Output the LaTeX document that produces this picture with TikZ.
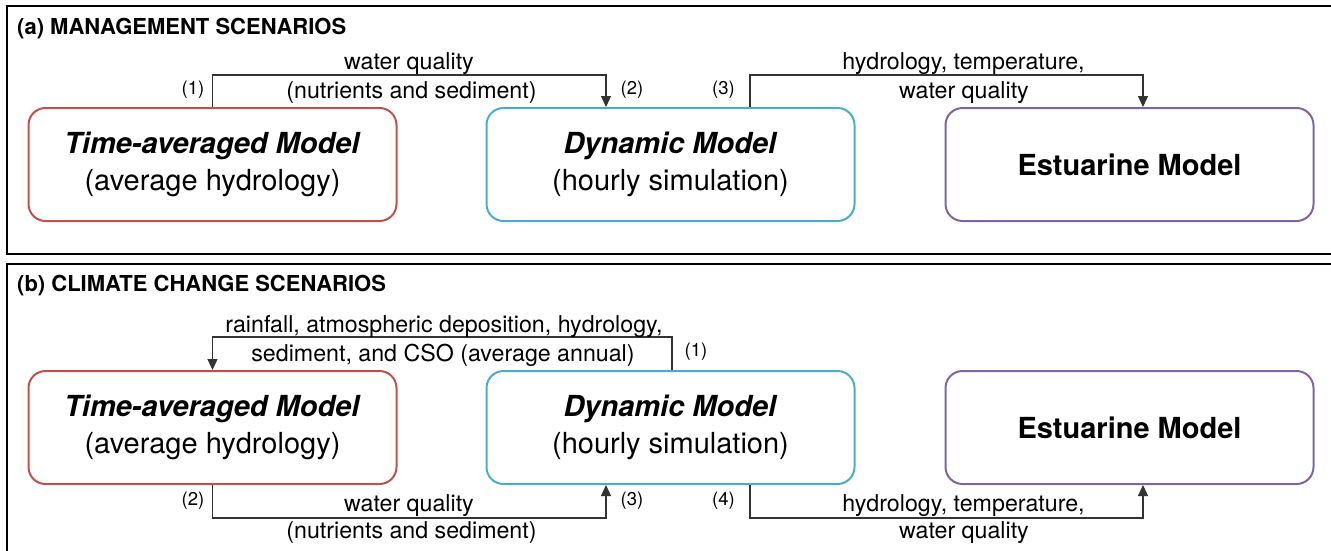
\documentclass[tikz,border=0pt]{standalone}
\usepackage{fontspec}
\setmainfont{TeX Gyre Heros}
\usepackage{xcolor}
\usepackage{tikz}
\usetikzlibrary{arrows.meta}

\definecolor{tavgred}{HTML}{C0504D}
\definecolor{dynblue}{HTML}{4BACC6}
\definecolor{estpurple}{HTML}{8064A2}

\begin{document}
\begin{tikzpicture}[x=1pt,y=-1pt,
  panel/.style={draw=black,line width=2.2pt},
  model/.style={draw,rounded corners=17pt,line width=2pt,minimum width=368pt,
    minimum height=113pt,align=center,font=\fontsize{29}{37}\selectfont},
  link/.style={draw=black!80,line width=1.2pt},
  flow/.style={link,-{Triangle[width=10pt,length=11pt]}},
  lbl/.style={font=\fontsize{23.2}{27}\selectfont,anchor=base,inner sep=0pt},
  num/.style={font=\fontsize{18.5}{22}\selectfont,inner sep=0pt},
  title/.style={font=\bfseries\fontsize{22}{26}\selectfont,anchor=base west,inner sep=0pt}]
\useasboundingbox (0,0) rectangle (1331,550);

% the two panels
\draw[panel] (7,6) rectangle (1345,254);
\draw[panel] (7,264) rectangle (1345,570);
\node[title] (titleA) at (17,34) {(a) MANAGEMENT SCENARIOS};
\node[title] (titleB) at (17,291) {(b) CLIMATE CHANGE SCENARIOS};

% models, panel (a)
\node[model,draw=tavgred] (tavgA) at (212.5,164.5) {\textbf{\textit{Time-averaged Model}}\\(average hydrology)};
\node[model,draw=dynblue] (dynA) at (670.5,164.5) {\textbf{\textit{Dynamic Model}}\\(hourly simulation)};
\node[model,draw=estpurple] (estA) at (1129.5,164.5) {\textbf{Estuarine Model}};

% models, panel (b)
\node[model,draw=tavgred] (tavgB) at (212.5,427.5) {\textbf{\textit{Time-averaged Model}}\\(average hydrology)};
\node[model,draw=dynblue] (dynB) at (670.5,427.5) {\textbf{\textit{Dynamic Model}}\\(hourly simulation)};
\node[model,draw=estpurple] (estB) at (1129.5,427.5) {\textbf{Estuarine Model}};

% links, panel (a)
\draw[flow] (tavgA.north) -- ++(0,-32) -| ([xshift=-64.5pt]dynA.north);
\draw[flow] ([xshift=79.5pt]dynA.north) -- ++(0,-32) -| ([xshift=13.5pt]estA.north);
\node[lbl] (wqA) at (409,69.5) {water quality};
\node[lbl] (nsA) at (411.5,98) {(nutrients and sediment)};
\node[lbl] (htA) at (963.5,69.5) {hydrology, temperature,};
\node[lbl] (wqEstA) at (964,98) {water quality};
\node[num] (oneA) at (193,90) {(1)};
\node[num] (twoA) at (632,90) {(2)};
\node[num] (threeA) at (723.5,90) {(3)};

% links, panel (b)
\draw[flow] ([xshift=1.5pt]dynB.north) -- ++(0,-33) -| (tavgB.north);
\draw[flow] (tavgB.south) -- ++(0,33) -| ([xshift=-64.5pt]dynB.south);
\draw[flow] ([xshift=79.5pt]dynB.south) -- ++(0,33) -| ([xshift=13.5pt]estB.south);
\node[lbl] (rainB) at (444,332) {rainfall, atmospheric deposition, hydrology,};
\node[lbl] (csoB) at (443,361) {sediment, and CSO (average annual)};
\node[lbl] (wqB) at (409,511) {water quality};
\node[lbl] (nsB) at (411.5,538) {(nutrients and sediment)};
\node[lbl] (htB) at (963.5,511) {hydrology, temperature,};
\node[lbl] (wqEstB) at (964,538) {water quality};
\node[num] (oneB) at (696,352) {(1)};
\node[num] (twoB) at (193,501) {(2)};
\node[num] (threeB) at (632,501) {(3)};
\node[num] (fourB) at (723.5,501) {(4)};
\end{tikzpicture}
\end{document}
